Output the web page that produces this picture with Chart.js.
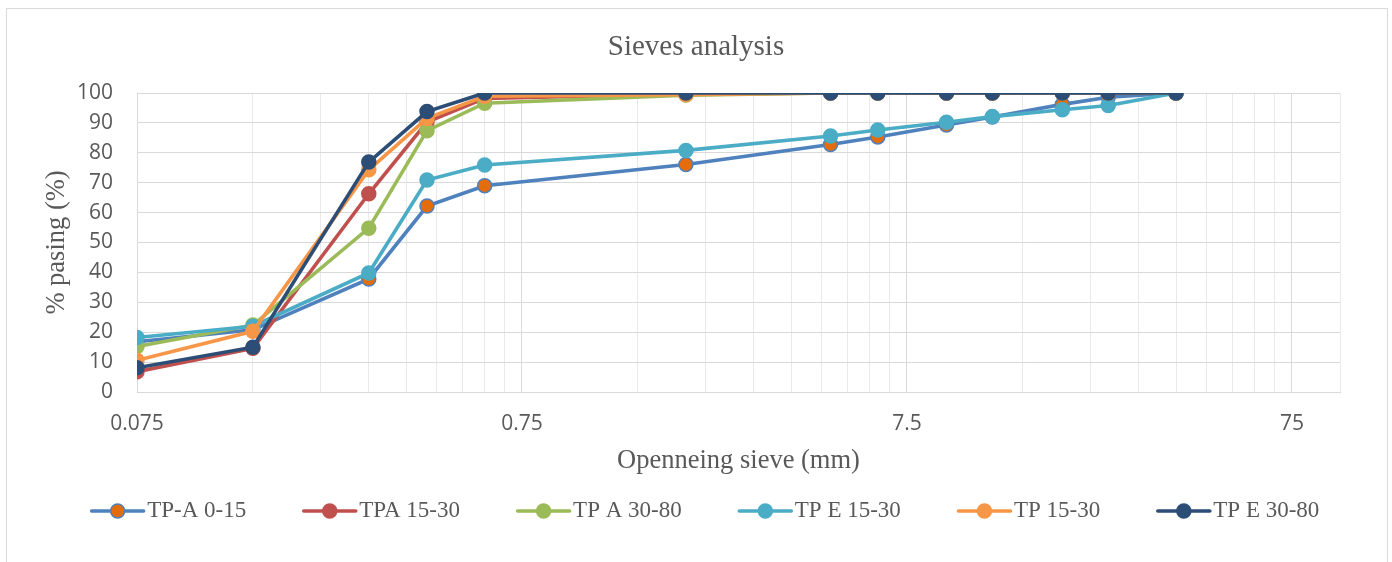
<!DOCTYPE html>
<html><head><meta charset="utf-8">
<script src="https://cdn.jsdelivr.net/npm/chart.js@4/dist/chart.umd.min.js"></script>
<style>
html,body{margin:0;padding:0;background:#fff;}
#wrap{position:relative;width:1392px;height:562px;overflow:hidden;background:#fff;}
#frame{position:absolute;left:6px;top:8px;width:1380px;height:600px;border:1px solid #d9d9d9;}
canvas{position:absolute;left:0;top:0;}
</style></head><body>
<div id="wrap"><div id="frame"></div><canvas id="c" width="1392" height="562"></canvas></div>
<script>
// ---- data ----
const sieveSizes = [0.075, 0.15, 0.3, 0.425, 0.6, 2, 4.75, 6.3, 9.5, 12.5, 19, 25, 37.5];
const seriesNames = ['TP-A 0-15', 'TPA 15-30', 'TP A 30-80', 'TP E 15-30', 'TP 15-30', 'TP E 30-80'];
const tpA_0_15   = [16.8, 20.8, 37.8, 62.2, 69.0, 76.1, 82.8, 85.3, 89.3, 92.0, 96.2, 98.6, 100];
const tpA_15_30  = [6.8, 14.6, 66.3, 90.3, 98.2, 99.7, 100, 100, 100, 100, 100, 100, 100];
const tpA_30_80  = [15.2, 22.4, 54.8, 87.4, 96.6, 99.3, 100, 100, 100, 100, 100, 100, 100];
const tpE_15_30  = [18.2, 22.0, 39.8, 70.9, 75.9, 80.8, 85.6, 87.6, 90.2, 92.1, 94.4, 95.8, 100];
const tp_15_30   = [10.6, 20.3, 74.3, 91.5, 98.9, 99.4, 100, 100, 100, 100, 100, 100, 100];
const tpE_30_80  = [8.1, 15.0, 76.9, 93.8, 100, 100, 100, 100, 100, 100, 100, 100, 100];
const xMajorTicks = [0.075, 0.75, 7.5, 75];
const xTickLabels = ['0.075', '0.75', '7.5', '75'];
const xMin = 0.075, xMax = 100;
const yTicks = [0, 10, 20, 30, 40, 50, 60, 70, 80, 90, 100];

const seriesValues = [tpA_0_15, tpA_15_30, tpA_30_80, tpE_15_30, tp_15_30, tpE_30_80];
const lineColors   = ['#4F81BD', '#C0504D', '#9BBB59', '#4BACC6', '#F79646', '#2C4D75'];
const markerFills  = ['#E46C0A', '#C0504D', '#9BBB59', '#4BACC6', '#F79646', '#2C4D75'];

const datasets = seriesNames.map((name, i) => ({
  label: name,
  data: sieveSizes.map((x, j) => ({x: x, y: seriesValues[i][j]})),
  borderColor: lineColors[i],
  backgroundColor: markerFills[i],
  pointBackgroundColor: markerFills[i],
  pointBorderColor: lineColors[i],
  pointBorderWidth: 1.5,
  pointRadius: 7,
  borderWidth: 3.6,
  tension: 0,
  order: seriesNames.length - i
}));

// grid tick values on log axis (major decades and their multiples)
const gridTicks = [];
xMajorTicks.forEach(m => { for (let k = 1; k <= 9; k++) { const v = m * k; if (v <= xMax * 1.0001) gridTicks.push(v); } });
gridTicks.push(xMax);
const isMajor = v => xMajorTicks.some(m => Math.abs(v - m) / m < 1e-6);
const labelFor = v => { const idx = xMajorTicks.findIndex(m => Math.abs(v - m) / m < 1e-6); return idx >= 0 ? xTickLabels[idx] : ''; };

const legendMarkers = {
  id: 'legendMarkers',
  afterLayout(chart) {
    chart.legend.left += 9; chart.legend.right += 9;
  },
  afterDraw(chart) {
    const lg = chart.legend, ctx = chart.ctx;
    lg.legendHitBoxes.forEach((hb, i) => {
      const item = lg.legendItems[i];
      const ds = chart.data.datasets[item.datasetIndex];
      const y = hb.top + hb.height / 2;
      ctx.save();
      ctx.strokeStyle = ds.borderColor; ctx.lineWidth = 3.6; ctx.lineCap = 'round';
      ctx.beginPath(); ctx.moveTo(hb.left + 1, y); ctx.lineTo(hb.left + 53, y); ctx.stroke();
      ctx.beginPath(); ctx.arc(hb.left + 27, y, 7, 0, Math.PI * 2);
      ctx.fillStyle = ds.pointBackgroundColor; ctx.fill();
      ctx.lineWidth = 1.5; ctx.strokeStyle = ds.pointBorderColor; ctx.stroke();
      ctx.restore();
    });
  }
};

new Chart(document.getElementById('c'), {
  type: 'line',
  data: { datasets },
  plugins: [legendMarkers],
  options: {
    responsive: false,
    animation: false,
    devicePixelRatio: 1,
    layout: { padding: { left: 0, top: 0, right: 0, bottom: 29.5 } },
    plugins: {
      title: {
        display: true, text: 'Sieves analysis', color: '#595959',
        font: { family: 'Liberation Serif', size: 29, weight: 'normal' },
        padding: { top: 29.6, bottom: 28.6 }
      },
      legend: {
        position: 'bottom',
        labels: {
          color: '#595959',
          font: { family: 'Liberation Serif', size: 23 },
          boxWidth: 45, boxHeight: 12, padding: 56.6,
          sort: (a, b) => a.datasetIndex - b.datasetIndex,
          generateLabels: (chart) => {
            const items = Chart.defaults.plugins.legend.labels.generateLabels(chart);
            items.forEach(it => { it.fillStyle = 'rgba(0,0,0,0)'; it.strokeStyle = 'rgba(0,0,0,0)'; it.lineWidth = 0; });
            return items;
          }
        }
      },
      tooltip: { enabled: false }
    },
    scales: {
      x: {
        type: 'logarithmic', min: xMin, max: xMax,
        afterBuildTicks: s => { s.ticks = gridTicks.map(v => ({ value: v, major: isMajor(v) })); },
        afterFit: s => { s.height = 50.9; },
        ticks: {
          autoSkip: false, maxRotation: 0, minRotation: 0, padding: 19.5,
          color: '#595959', font: { family: 'Open Sans', size: 21 },
          callback: (v) => labelFor(v)
        },
        grid: {
          drawTicks: false, lineWidth: 1,
          color: c => (c.tick && isMajor(c.tick.value)) ? '#d9d9d9' : '#e9e9e9'
        },
        border: { color: '#d9d9d9', width: 1 },
        title: {
          display: true, text: 'Openneing sieve (mm)', color: '#595959',
          font: { family: 'Liberation Serif', size: 26.5 },
          padding: { top: 0, bottom: -34 }
        }
      },
      y: {
        min: 0, max: 100,
        afterBuildTicks: s => { s.ticks = yTicks.map(v => ({ value: v })); },
        afterFit: s => { s.width = 137; },
        ticks: { padding: 24, color: '#595959', font: { family: 'Open Sans', size: 21 } },
        grid: { drawTicks: false, color: '#d9d9d9', lineWidth: 1 },
        border: { color: '#d9d9d9', width: 1 },
        title: {
          display: true, text: '% pasing (%)', color: '#595959',
          font: { family: 'Liberation Serif', size: 26.5 },
          padding: { top: 41.2, bottom: 0 }
        }
      },
      yRightSpace: {
        position: 'right', min: 0, max: 100,
        afterFit: s => { s.width = 52; },
        ticks: { display: false },
        grid: { display: false, drawTicks: false },
        border: { display: false },
        title: { display: false }
      }
    }
  }
});
</script>
</body></html>
